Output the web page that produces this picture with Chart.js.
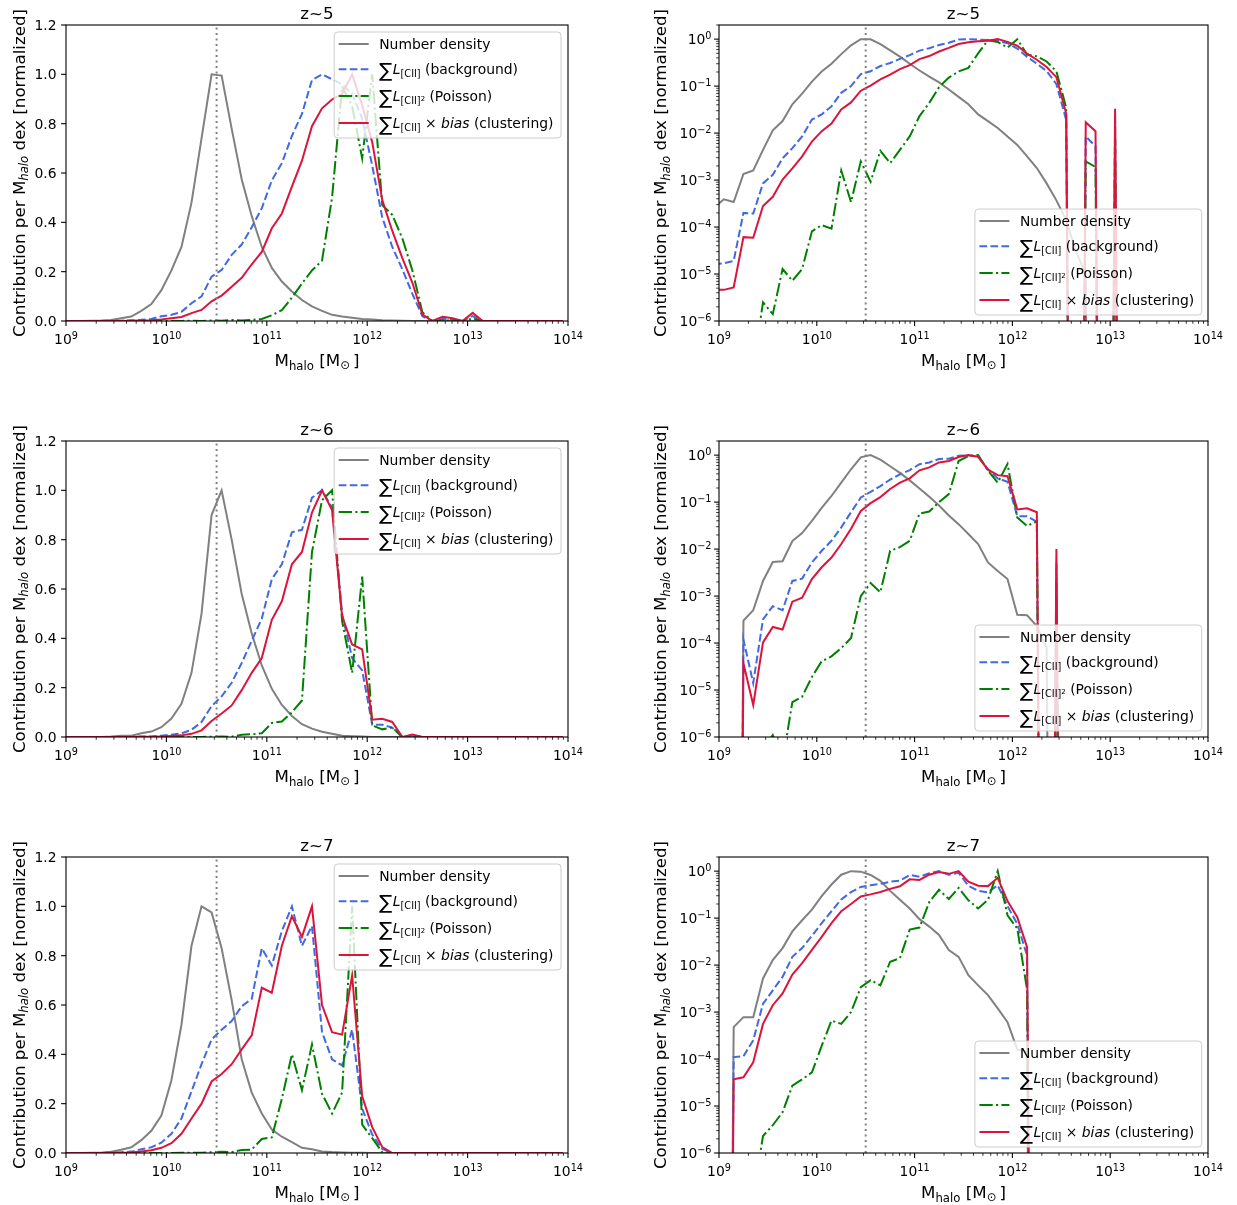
<!DOCTYPE html>
<html>
<head>
<meta charset="utf-8">
<script src="https://cdn.jsdelivr.net/npm/chart.js@4.4.1/dist/chart.umd.min.js"></script>
<style>
  html, body { margin: 0; padding: 0; background: #fff; width: 1237px; height: 1205px; overflow: hidden; }
  canvas { position: absolute; }
</style>
</head>
<body>
<script>
// bin centres, log10(M_halo / M_sun)
const LOG_M = [
  8.95, 9.05, 9.15, 9.25, 9.35, 9.45, 9.55, 9.65, 9.75, 9.85,
  9.95, 10.05, 10.15, 10.25, 10.35, 10.45, 10.55, 10.65, 10.75, 10.85,
  10.95, 11.05, 11.15, 11.25, 11.35, 11.45, 11.55, 11.65, 11.75, 11.85,
  11.95, 12.05, 12.15, 12.25, 12.35, 12.45, 12.55, 12.65, 12.75, 12.85,
  12.95, 13.05, 13.15, 13.25, 13.35, 13.45, 13.55, 13.65, 13.75, 13.85,
  13.95
];
const LOG_M_REF = 10.5; // dotted vertical line

// z~5
const Z5_NUMBER = [
  2.6e-4, 3.9e-4, 3.4e-4, 1.35e-3, 1.6e-3, 4.4e-3, 1.15e-2, 1.8e-2, 4.1e-2, 0.069,
  0.125, 0.205, 0.30, 0.48, 0.74, 1.0, 0.995, 0.78, 0.575, 0.425,
  0.30, 0.215, 0.16, 0.12, 0.085, 0.059, 0.041, 0.025, 0.018, 0.0128,
  0.0085, 0.0056, 0.0032, 0.0018, 8.5e-4, 3.7e-4, 1.4e-4, 3e-5, 1e-5, 0,
  0, 0, 0, 0, 0, 0, 0, 0, 0, 0,
  0
];
const Z5_BACKGROUND = [
  1.6e-5, 1.7e-5, 1.9e-5, 2.0e-4, 1.94e-4, 8.5e-4, 1.29e-3, 2.9e-3, 4.8e-3, 8.5e-3,
  0.0194, 0.025, 0.037, 0.072, 0.10, 0.18, 0.207, 0.268, 0.31, 0.38,
  0.457, 0.57, 0.64, 0.75, 0.84, 0.977, 1.0, 0.98, 0.96, 0.92,
  0.82, 0.63, 0.42, 0.30, 0.21, 0.11, 0.019, 0, 0.0085, 0.0052,
  0, 0.02, 0, 0, 0, 0, 0, 0, 0, 0,
  0
];
const Z5_POISSON = [
  0, 0, 0, 0, 1e-7, 2.5e-6, 1.4e-6, 1.28e-5, 7.2e-6, 1.28e-5,
  8.1e-5, 1.1e-4, 9.2e-5, 1.6e-3, 3.4e-4, 2.5e-3, 9.2e-4, 4.2e-3, 2.3e-3, 4.4e-3,
  8.5e-3, 0.023, 0.044, 0.095, 0.152, 0.205, 0.245, 0.50, 0.95, 0.87,
  0.66, 1.0, 0.47, 0.43, 0.335, 0.205, 0.035, 0, 0.0025, 0.0019,
  0, 0.01, 0, 0, 0, 0, 0, 0, 0, 0,
  0
];
const Z5_CLUSTERING = [
  4.6e-6, 4.6e-6, 5.2e-6, 6.1e-5, 5.9e-5, 2.8e-4, 4.4e-4, 1.03e-3, 1.78e-3, 3.2e-3,
  6.6e-3, 0.011, 0.016, 0.032, 0.045, 0.08, 0.103, 0.139, 0.175, 0.23,
  0.28, 0.376, 0.436, 0.545, 0.65, 0.79, 0.862, 0.898, 0.92, 1.0,
  0.875, 0.725, 0.49, 0.365, 0.255, 0.155, 0.026, 0, 0.017, 0.011,
  0, 0.033, 0, 0, 0, 0, 0, 0, 0, 0,
  0
];

// z~6
const Z6_NUMBER = [
  0, 0, 0, 3.0e-4, 5.0e-4, 2.1e-3, 5.3e-3, 5.5e-3, 0.0148, 0.022,
  0.04, 0.075, 0.135, 0.26, 0.50, 0.90, 1.0, 0.80, 0.58, 0.42,
  0.29, 0.195, 0.13, 0.085, 0.052, 0.034, 0.021, 0.0128, 5.2e-3, 3.4e-3,
  2.3e-3, 4.0e-4, 3.9e-4, 2.3e-4, 8e-5, 0, 0, 0, 0, 0,
  0, 0, 0, 0, 0, 0, 0, 0, 0, 0,
  0
];
const Z6_BACKGROUND = [
  0, 0, 0, 1.18e-4, 1.4e-5, 3.2e-4, 6.1e-4, 5e-4, 2.1e-3, 2.35e-3,
  5.2e-3, 9.2e-3, 0.015, 0.029, 0.061, 0.125, 0.165, 0.22, 0.30, 0.39,
  0.48, 0.64, 0.70, 0.83, 0.84, 0.97, 1.0, 0.93, 0.50, 0.32,
  0.27, 0.05, 0.05, 0.038, 0, 0.005, 0, 0, 0, 0,
  0, 0, 0, 0, 0, 0, 0, 0, 0, 0,
  0
];
const Z6_POISSON = [
  0, 0, 0, 0, 0, 5.5e-7, 1.1e-6, 3e-7, 5.5e-6, 7.2e-6,
  1.9e-5, 4.1e-5, 5.2e-5, 7.8e-5, 1.28e-4, 1.0e-3, 1.9e-3, 1.2e-3, 9.2e-3, 0.011,
  0.015, 0.057, 0.063, 0.10, 0.148, 0.75, 0.96, 1.0, 0.47, 0.26,
  0.65, 0.047, 0.031, 0.039, 0, 0.002, 0, 0, 0, 0,
  0, 0, 0, 0, 0, 0, 0, 0, 0, 0,
  0
];
const Z6_CLUSTERING = [
  0, 0, 0, 3.7e-5, 4.8e-6, 1.03e-4, 2.2e-4, 1.94e-4, 7.6e-4, 9.2e-4,
  2.3e-3, 4.1e-3, 6.6e-3, 0.0128, 0.027, 0.065, 0.095, 0.128, 0.19, 0.26,
  0.32, 0.475, 0.55, 0.70, 0.75, 0.91, 1.0, 0.92, 0.49, 0.375,
  0.355, 0.07, 0.074, 0.061, 0, 0.01, 0, 0, 0, 0,
  0, 0, 0, 0, 0, 0, 0, 0, 0, 0,
  0
];

// z~7
const Z7_NUMBER = [
  0, 0, 4.8e-4, 7.8e-4, 7.8e-4, 5.2e-3, 0.0128, 0.023, 0.052, 0.09,
  0.152, 0.295, 0.52, 0.84, 1.0, 0.975, 0.83, 0.62, 0.38, 0.245,
  0.16, 0.095, 0.066, 0.044, 0.021, 0.015, 6.1e-3, 3.7e-3, 2.3e-3, 1.2e-3,
  6.1e-4, 1.6e-4, 1.4e-4, 0, 0, 0, 0, 0, 0, 0,
  0, 0, 0, 0, 0, 0, 0, 0, 0, 0,
  0
];
const Z7_BACKGROUND = [
  0, 0, 1.1e-4, 1.15e-4, 2.5e-4, 1.5e-3, 2.9e-3, 5.6e-3, 0.015, 0.023,
  0.042, 0.078, 0.14, 0.25, 0.36, 0.46, 0.50, 0.535, 0.595, 0.625,
  0.83, 0.76, 0.90, 1.0, 0.84, 0.92, 0.49, 0.38, 0.355, 0.50,
  0.18, 0.075, 0.016, 0, 0, 0, 0, 0, 0, 0,
  0, 0, 0, 0, 0, 0, 0, 0, 0, 0,
  0
];
const Z7_POISSON = [
  0, 0, 0, 0, 1.2e-7, 2.3e-6, 3.9e-6, 7.4e-6, 2.7e-5, 3.7e-5,
  5.2e-5, 1.9e-4, 6.6e-4, 5.6e-4, 1.0e-3, 3.4e-3, 4.8e-3, 3.7e-3, 0.0118, 0.014,
  0.057, 0.063, 0.22, 0.40, 0.255, 0.44, 0.24, 0.16, 0.245, 1.0,
  0.115, 0.06, 0.003, 0, 0, 0, 0, 0, 0, 0,
  0, 0, 0, 0, 0, 0, 0, 0, 0, 0,
  0
];
const Z7_CLUSTERING = [
  0, 0, 3.7e-5, 4.1e-5, 8.5e-5, 5.6e-4, 1.4e-3, 2.5e-3, 6.3e-3, 0.011,
  0.021, 0.04, 0.078, 0.14, 0.20, 0.29, 0.32, 0.36, 0.42, 0.477,
  0.67, 0.65, 0.84, 0.96, 0.876, 1.0, 0.60, 0.49, 0.48, 0.72,
  0.23, 0.105, 0.024, 0, 0, 0, 0, 0, 0, 0,
  0, 0, 0, 0, 0, 0, 0, 0, 0, 0,
  0
];

const PANEL_TITLES = ['z~5', 'z~6', 'z~7'];
const PANEL_SERIES = [
  [Z5_NUMBER, Z5_BACKGROUND, Z5_POISSON, Z5_CLUSTERING],
  [Z6_NUMBER, Z6_BACKGROUND, Z6_POISSON, Z6_CLUSTERING],
  [Z7_NUMBER, Z7_BACKGROUND, Z7_POISSON, Z7_CLUSTERING],
];

// tick labels
const X_TICK_EXP = [9, 10, 11, 12, 13, 14];
const Y_LIN_TICKS = [0, 0.2, 0.4, 0.6, 0.8, 1.0, 1.2];
const Y_LIN_LABELS = ['0.0', '0.2', '0.4', '0.6', '0.8', '1.0', '1.2'];
const Y_LOG_TICK_EXP = [-6, -5, -4, -3, -2, -1, 0];
const MINOR_MANT = [2, 3, 4, 5, 6, 7, 8, 9];

const FONT = '"DejaVu Sans"';
const FS = 13.9, SUB = 9.7, TINY = 6.9, TITLE_FS = 16.7, LAB_FS = 16.7, LAB_SUB = 11.7;

const STYLES = [
  { color: '#808080', dash: [] },
  { color: '#4169e1', dash: [7.7, 3.3] },
  { color: '#008000', dash: [13.3, 3.3, 2.1, 3.3] },
  { color: '#dc143c', dash: [] },
];

const SIGMA = { t: '\u2211', s: 19.5, dy: 2.5, gap: 0.5 };
const LCII = [SIGMA, { t: 'L', it: 1 }, { t: '[CII]', s: SUB, dy: 3 }];
const LEGEND_ROWS = [
  [{ t: 'Number density' }],
  [...LCII, { t: ' (background)' }],
  [...LCII, { t: '2', s: TINY, dy: -0.5 }, { t: ' (Poisson)' }],
  [...LCII, { t: ' \u00d7 ' }, { t: 'bias', it: 1 }, { t: ' (clustering)' }],
];
const X_LABEL = [
  { t: 'M', s: LAB_FS }, { t: 'halo', s: LAB_SUB, dy: 3.5 }, { t: ' [M', s: LAB_FS },
  { t: '\u2299', s: LAB_SUB, dy: 2.5, gap: 3 }, { t: ']', s: LAB_FS },
];
const Y_LABEL = [
  { t: 'Contribution per M', s: LAB_FS }, { t: 'halo', s: LAB_SUB, it: 1, dy: 3.5 },
  { t: ' dex [normalized]', s: LAB_FS },
];

function fontOf(p) {
  return (p.it ? 'italic ' : '') + (p.s || FS) + 'px ' + FONT;
}
function richWidth(ctx, parts) {
  let w = 0;
  for (const p of parts) { ctx.font = fontOf(p); w += ctx.measureText(p.t).width + (p.gap || 0); }
  return w;
}
function drawRich(ctx, parts, x, y, align) {
  const w = richWidth(ctx, parts);
  let cx = align === 'center' ? x - w / 2 : align === 'right' ? x - w : x;
  ctx.textAlign = 'left';
  ctx.textBaseline = 'alphabetic';
  for (const p of parts) {
    ctx.font = fontOf(p);
    ctx.fillText(p.t, cx, y + (p.dy || 0));
    cx += ctx.measureText(p.t).width + (p.gap || 0);
  }
}
function line(ctx, x1, y1, x2, y2) {
  ctx.beginPath(); ctx.moveTo(x1, y1); ctx.lineTo(x2, y2); ctx.stroke();
}

const mplAxes = {
  id: 'mplAxes',
  afterDraw(chart, args, o) {
    const { ctx, chartArea: a } = chart;
    const xs = chart.scales.x, ys = chart.scales.y;
    ctx.save();
    ctx.fillStyle = '#000';

    // legend
    let tw = 0;
    for (const r of LEGEND_ROWS) tw = Math.max(tw, richWidth(ctx, r));
    const LW = 45 + tw + 7.5, LH = 106;
    const bx = o.logY ? a.right - 6.3 - LW : a.right - 7 - LW;
    const by = o.logY ? a.bottom - 6 - LH : a.top + 7;
    ctx.beginPath();
    ctx.roundRect(bx, by, LW, LH, 3.5);
    ctx.fillStyle = 'rgba(255,255,255,0.8)';
    ctx.fill();
    ctx.strokeStyle = '#cccccc';
    ctx.lineWidth = 1;
    ctx.stroke();
    const handleY = [12, 37.3, 64, 91];
    const baseY = [17, 42, 69, 96];
    LEGEND_ROWS.forEach((r, i) => {
      ctx.strokeStyle = STYLES[i].color;
      ctx.lineWidth = 2;
      ctx.setLineDash(STYLES[i].dash);
      line(ctx, bx + 4.5, by + handleY[i], bx + 34.5, by + handleY[i]);
      ctx.setLineDash([]);
      ctx.fillStyle = '#000';
      drawRich(ctx, r, bx + 45, by + baseY[i], 'left');
    });

    // spines
    ctx.strokeStyle = '#000';
    ctx.lineWidth = 1.1;
    ctx.strokeRect(a.left, a.top, a.right - a.left, a.bottom - a.top);

    // x ticks
    for (let d = 9; d < 14; d++) {
      ctx.lineWidth = 0.8;
      for (const m of MINOR_MANT) {
        const px = xs.getPixelForValue(m * Math.pow(10, d));
        line(ctx, px, a.bottom, px, a.bottom + 2.8);
      }
    }
    X_TICK_EXP.forEach(e => {
      const px = xs.getPixelForValue(Math.pow(10, e));
      ctx.lineWidth = 1.1;
      line(ctx, px, a.bottom, px, a.bottom + 4.9);
      drawRich(ctx, [{ t: '10' }, { t: String(e), s: SUB, dy: -5 }], px, a.bottom + 22.5, 'center');
    });

    // y ticks
    if (o.logY) {
      for (let d = -6; d <= 0; d++) {
        ctx.lineWidth = 0.8;
        for (const m of MINOR_MANT) {
          const v = m * Math.pow(10, d);
          if (v > ys.max) continue;
          const py = ys.getPixelForValue(v);
          line(ctx, a.left - 2.8, py, a.left, py);
        }
      }
      Y_LOG_TICK_EXP.forEach(e => {
        const py = ys.getPixelForValue(Math.pow(10, e));
        ctx.lineWidth = 1.1;
        line(ctx, a.left - 4.9, py, a.left, py);
        const es = e < 0 ? '\u2212' + (-e) : String(e);
        drawRich(ctx, [{ t: '10' }, { t: es, s: SUB, dy: -5 }], a.left - 7.5, py + 5, 'right');
      });
    } else {
      Y_LIN_TICKS.forEach((v, i) => {
        const py = ys.getPixelForValue(v);
        ctx.lineWidth = 1.1;
        line(ctx, a.left - 4.9, py, a.left, py);
        drawRich(ctx, [{ t: Y_LIN_LABELS[i] }], a.left - 9.5, py + 5, 'right');
      });
    }

    // title and axis labels
    const cx = (a.left + a.right) / 2, cy = (a.top + a.bottom) / 2;
    drawRich(ctx, [{ t: o.title, s: TITLE_FS }], cx, a.top - 6.5, 'center');
    drawRich(ctx, X_LABEL, cx, a.bottom + 45, 'center');
    ctx.translate(o.logY ? a.left - 53 : a.left - 41.5, cy);
    ctx.rotate(-Math.PI / 2);
    drawRich(ctx, Y_LABEL, 0, 0, 'center');
    ctx.restore();
  }
};

function makePanel(row, col) {
  const logY = col === 1;
  const cv = document.createElement('canvas');
  cv.width = col ? 619 : 618;
  cv.height = 380;
  cv.style.left = (col ? 618 : 0) + 'px';
  cv.style.top = (row * 416) + 'px';
  document.body.appendChild(cv);

  const series = PANEL_SERIES[row];
  const yOf = v => (logY && v <= 0 ? 1e-30 : v);
  const datasets = series.map((vals, i) => ({
    data: LOG_M.map((m, k) => ({ x: Math.pow(10, m), y: yOf(vals[k]) })),
    borderColor: STYLES[i].color,
    borderDash: STYLES[i].dash,
    borderWidth: 2,
    pointRadius: 0,
    fill: false,
    order: 4 - i,
  }));
  datasets.push({
    data: [
      { x: Math.pow(10, LOG_M_REF), y: logY ? 1e-6 : 0 },
      { x: Math.pow(10, LOG_M_REF), y: logY ? 2 : 1.2 },
    ],
    borderColor: '#808080',
    borderDash: [2.1, 3.4],
    borderWidth: 2,
    pointRadius: 0,
    order: 0,
  });

  new Chart(cv.getContext('2d'), {
    type: 'line',
    data: { datasets },
    options: {
      responsive: false,
      animation: false,
      devicePixelRatio: 1,
      layout: { padding: col ? { left: 101, right: 29, top: 25, bottom: 59 } : { left: 66, right: 50, top: 25, bottom: 59 } },
      plugins: {
        legend: { display: false },
        tooltip: { enabled: false },
        mplAxes: { title: PANEL_TITLES[row], logY },
      },
      scales: {
        x: { type: 'logarithmic', min: 1e9, max: 1e14, display: false },
        y: logY ? { type: 'logarithmic', min: 1e-6, max: 2, display: false }
                : { type: 'linear', min: 0, max: 1.2, display: false },
      },
    },
    plugins: [mplAxes],
  });
}

for (let r = 0; r < 3; r++) {
  makePanel(r, 0);
  makePanel(r, 1);
}
</script>
</body>
</html>
